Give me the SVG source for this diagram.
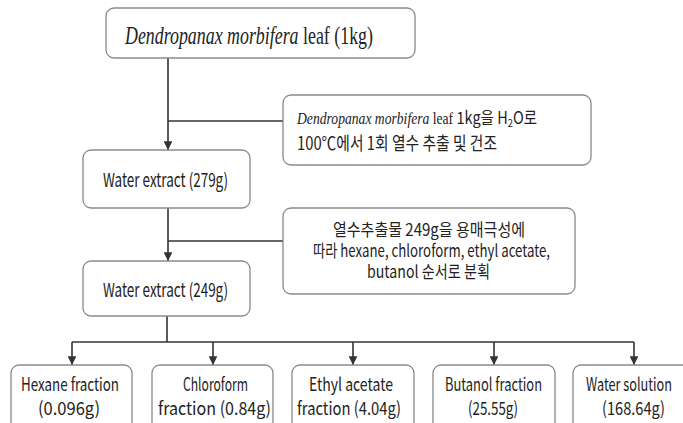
<svg xmlns="http://www.w3.org/2000/svg" width="683" height="423" viewBox="0 0 683 423">
<style>
.box{fill:#ffffff;stroke:#8a8a8a;stroke-width:1.3}
.ln{fill:none;stroke:#333333;stroke-width:1.6}
.s{font-family:"Noto Sans CJK KR","Liberation Sans",sans-serif;fill:#222222}
.r{font-family:"Liberation Serif","Noto Serif",serif;fill:#222222}
</style>
<defs>
<marker id="ah" viewBox="0 0 10 10" refX="10" refY="5" markerWidth="5.5" markerHeight="5.5" orient="auto" markerUnits="strokeWidth">
<path d="M0,0 L10,5 L0,10 z" fill="#333333"/>
</marker>
</defs>
<rect width="683" height="423" fill="#ffffff"/>
<g id="connectors">
<line class="ln" x1="168" y1="58" x2="168" y2="150" marker-end="url(#ah)"/>
<line class="ln" x1="168" y1="121" x2="283" y2="121"/>
<line class="ln" x1="168" y1="208" x2="168" y2="261" marker-end="url(#ah)"/>
<line class="ln" x1="168" y1="241" x2="283" y2="241"/>
<line class="ln" x1="167" y1="316" x2="167" y2="342"/>
<line class="ln" x1="72" y1="342" x2="634" y2="342"/>
<line class="ln" x1="72" y1="342" x2="72" y2="365" marker-end="url(#ah)"/>
<line class="ln" x1="213" y1="342" x2="213" y2="365" marker-end="url(#ah)"/>
<line class="ln" x1="353" y1="342" x2="353" y2="365" marker-end="url(#ah)"/>
<line class="ln" x1="494" y1="342" x2="494" y2="365" marker-end="url(#ah)"/>
<line class="ln" x1="634" y1="342" x2="634" y2="365" marker-end="url(#ah)"/>
</g>
<g id="leaf">
<rect class="box" x="106" y="8" width="309" height="50" rx="8"/>
<text class="r" x="125" y="44" font-size="25" textLength="248" lengthAdjust="spacingAndGlyphs"><tspan font-style="italic">Dendropanax morbifera</tspan> leaf (1kg)</text>
</g>
<g id="note1">
<rect class="box" x="283" y="95" width="308" height="70" rx="8"/>
<text x="297" y="124" font-size="17" textLength="240" lengthAdjust="spacingAndGlyphs" class="s"><tspan class="r" font-style="italic" font-size="16">Dendropanax morbifera</tspan><tspan class="r" font-size="16"> leaf  </tspan>1kg을 H<tspan font-size="11" dy="3">2</tspan><tspan dy="-3">O로</tspan></text>
<text class="s" x="297" y="150" font-size="18" textLength="200" lengthAdjust="spacingAndGlyphs">100℃에서 1회 열수 추출 및 건조</text>
</g>
<g id="water279">
<rect class="box" x="83" y="150" width="167" height="58" rx="8"/>
<text class="s" x="103" y="187" font-size="19" textLength="125" lengthAdjust="spacingAndGlyphs">Water extract (279g)</text>
</g>
<g id="note2">
<rect class="box" x="283" y="208" width="292" height="86" rx="8"/>
<text class="s" x="333" y="236" font-size="17" textLength="192" lengthAdjust="spacingAndGlyphs">열수추출물 249g을 용매극성에</text>
<text class="s" x="313" y="257" font-size="17" textLength="237" lengthAdjust="spacingAndGlyphs">따라 hexane, chloroform, ethyl acetate,</text>
<text class="s" x="367" y="278" font-size="17" textLength="123" lengthAdjust="spacingAndGlyphs">butanol 순서로 분획</text>
</g>
<g id="water249">
<rect class="box" x="83" y="261" width="167" height="55" rx="8"/>
<text class="s" x="103" y="297" font-size="19" textLength="125" lengthAdjust="spacingAndGlyphs">Water extract (249g)</text>
</g>
<g id="hexane">
<rect class="box" x="11" y="365" width="121" height="70" rx="8"/>
<text class="s" x="21" y="391" font-size="18" textLength="98" lengthAdjust="spacingAndGlyphs">Hexane fraction</text>
<text class="s" x="38" y="415" font-size="18" textLength="62" lengthAdjust="spacingAndGlyphs">(0.096g)</text>
</g>
<g id="chloroform">
<rect class="box" x="152" y="365" width="121" height="70" rx="8"/>
<text class="s" x="183" y="391" font-size="18" textLength="65" lengthAdjust="spacingAndGlyphs">Chloroform</text>
<text class="s" x="158" y="415" font-size="18" textLength="113" lengthAdjust="spacingAndGlyphs">fraction (0.84g)</text>
</g>
<g id="ethyl">
<rect class="box" x="292" y="365" width="122" height="70" rx="8"/>
<text class="s" x="309" y="391" font-size="18" textLength="84" lengthAdjust="spacingAndGlyphs">Ethyl acetate</text>
<text class="s" x="297" y="415" font-size="18" textLength="104" lengthAdjust="spacingAndGlyphs">fraction (4.04g)</text>
</g>
<g id="butanol">
<rect class="box" x="433" y="365" width="122" height="70" rx="8"/>
<text class="s" x="445" y="391" font-size="18" textLength="97" lengthAdjust="spacingAndGlyphs">Butanol fraction</text>
<text class="s" x="468" y="415" font-size="18" textLength="50" lengthAdjust="spacingAndGlyphs">(25.55g)</text>
</g>
<g id="watersol">
<rect class="box" x="573" y="365" width="122" height="70" rx="8"/>
<text class="s" x="586" y="391" font-size="18" textLength="86" lengthAdjust="spacingAndGlyphs">Water solution</text>
<text class="s" x="602" y="415" font-size="18" textLength="63" lengthAdjust="spacingAndGlyphs">(168.64g)</text>
</g>
</svg>
